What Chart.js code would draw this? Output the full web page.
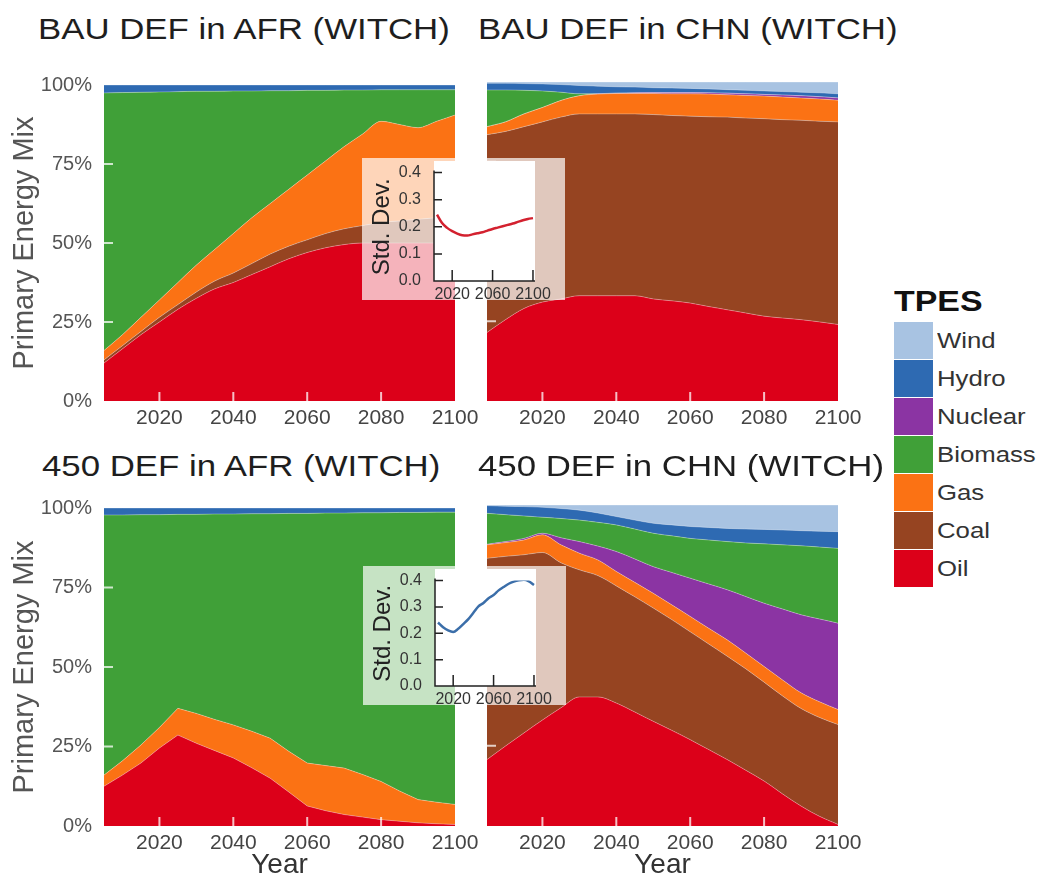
<!DOCTYPE html>
<html>
<head>
<meta charset="utf-8">
<script src="https://cdn.jsdelivr.net/npm/chart.js@4.4.0/dist/chart.umd.min.js"></script>
<style>
  body { margin: 0; background: #fff; width: 1039px; height: 879px; position: relative; overflow: hidden;
         font-family: "Liberation Sans", Arial, Helvetica, sans-serif; }
  canvas { position: absolute; }
  .inset { background: rgba(255,255,255,0.7); z-index: 5; }
  .ttl { position: absolute; font-size: 30px; line-height: 30px; color: #1e1e1e; white-space: nowrap;
         transform-origin: 0 0; transform: scaleX(1.16); z-index: 6; }
  .lgTitle { position: absolute; left: 894px; top: 286px; font-size: 30px; line-height: 30px; font-weight: bold;
             color: #111; transform-origin: 0 0; transform: scaleX(1.13); }
  .lgBox { position: absolute; left: 894px; width: 39px; height: 37px; }
  .lgTxt { position: absolute; left: 937px; font-size: 22px; line-height: 38px; color: #333; white-space: nowrap;
           transform-origin: 0 0; transform: scaleX(1.17); }
</style>
</head>
<body>
<div class="ttl" style="left:38px;top:14px">BAU DEF in AFR (WITCH)</div>
<div class="ttl" style="left:478px;top:14px">BAU DEF in CHN (WITCH)</div>
<div class="ttl" style="left:42px;top:451px">450 DEF in AFR (WITCH)</div>
<div class="ttl" style="left:478px;top:451px">450 DEF in CHN (WITCH)</div>

<canvas id="bauAfr" width="490" height="360" style="left:0;top:69px"></canvas>
<canvas id="bauChn" width="403" height="360" style="left:470px;top:69px"></canvas>
<canvas id="p450Afr" width="490" height="387" style="left:0;top:492px"></canvas>
<canvas id="p450Chn" width="403" height="387" style="left:470px;top:492px"></canvas>
<canvas id="bauSd" class="inset" width="203" height="142" style="left:362px;top:158px"></canvas>
<canvas id="p450Sd" class="inset" width="203" height="139" style="left:363px;top:566px"></canvas>

<div id="legend"></div>

<script>
// years on every panel
var years = [2005, 2010, 2015, 2020, 2025, 2030, 2035, 2040, 2045, 2050,
             2055, 2060, 2065, 2070, 2075, 2080, 2085, 2090, 2095, 2100];

// BAU DEF in AFR, shares in %
var bauAfrOil     = [12, 16.5, 21, 25, 29, 32.5, 35.5, 37.5, 40, 42.5, 45, 47, 48.5, 49.5, 50, 50, 50, 50, 50, 50];
var bauAfrCoal    = [1, 1, 1, 1.5, 1.5, 2, 2.5, 3, 3.5, 4, 4, 4, 4.5, 5, 5.5, 6.5, 7, 7.5, 8, 8.5];
var bauAfrGas     = [3, 3.5, 4.5, 5.5, 7, 8.5, 10, 12.5, 14.5, 16, 18, 20.5, 23, 26, 29, 32, 30.5, 29, 30.5, 32];
var bauAfrBiomass = [81.5, 76.6, 71.2, 65.8, 60.4, 55, 50, 45.1, 40.1, 35.7, 31.2, 26.8, 22.3, 17.9, 13.9, 10, 11, 12, 10, 8];
var bauAfrHydro   = [2.5, 2.4, 2.3, 2.2, 2.1, 2, 2, 1.9, 1.9, 1.8, 1.8, 1.7, 1.7, 1.6, 1.6, 1.5, 1.5, 1.5, 1.5, 1.5];

// BAU DEF in CHN
var bauChnOil     = [21.5, 25.5, 29, 31, 32, 33, 33, 33, 33, 32, 31.4, 30.7, 29.6, 28.6, 27.6, 26.6, 26, 25.5, 24.8, 24];
var bauChnCoal    = [62, 59, 57, 56.5, 57, 57, 57, 57, 57, 57.8, 58.1, 58.6, 59.5, 60.4, 61.1, 61.9, 62.2, 62.5, 62.9, 63.5];
var bauChnGas     = [2.5, 3, 4, 4.5, 5.2, 5.7, 6.2, 6.4, 6.4, 6.6, 6.8, 7, 7.1, 7, 7.1, 7.1, 7.1, 7, 7, 6.8];
var bauChnNuclear = [0, 0, 0, 0, 0, 0, 0.1, 0.1, 0.2, 0.3, 0.4, 0.4, 0.4, 0.5, 0.5, 0.5, 0.6, 0.7, 0.7, 0.7];
var bauChnBiomass = [11.5, 10, 7.4, 5.2, 2.6, 0.6, 0, 0, 0, 0, 0, 0, 0, 0, 0, 0, 0, 0, 0, 0];
var bauChnHydro   = [2.1, 2.1, 2.1, 2.2, 2.4, 2.6, 2.4, 2, 1.8, 1.5, 1.4, 1.3, 1.2, 1.1, 1.1, 1.1, 1.1, 1.1, 1.2, 1.3];
var bauChnWind    = [0.4, 0.4, 0.5, 0.6, 0.8, 1.1, 1.3, 1.5, 1.6, 1.8, 1.9, 2, 2.2, 2.4, 2.6, 2.8, 3, 3.2, 3.4, 3.7];

// 450 DEF in AFR
var p450AfrOil     = [12.5, 16, 19.8, 24.5, 28.6, 26, 23.7, 21.4, 18.3, 15, 10.7, 6.3, 4.8, 3.6, 2.8, 2, 1.5, 1, 0.7, 0.5];
var p450AfrGas     = [3.5, 4.5, 5.7, 6.5, 8.4, 9.4, 9.8, 10.4, 11.5, 12.6, 12.8, 13.5, 14.2, 14.6, 13.4, 12, 9.5, 7.3, 6.8, 6.3];
var p450AfrBiomass = [81.8, 77.3, 72.4, 66.9, 61, 62.6, 64.6, 66.3, 68.4, 70.6, 74.8, 78.5, 79.4, 80.2, 82.3, 84.5, 87.6, 90.3, 91.2, 91.9];
var p450AfrHydro   = [2.2, 2.2, 2.1, 2.1, 2, 2, 1.9, 1.9, 1.8, 1.8, 1.7, 1.7, 1.6, 1.6, 1.5, 1.5, 1.4, 1.4, 1.3, 1.3];

// 450 DEF in CHN
var p450ChnOil     = [20.7, 24.9, 29, 33, 36.8, 40.2, 40.2, 38.3, 35.5, 32.6, 29.8, 26.9, 23.8, 20.7, 17.4, 14, 10, 6.2, 3, 0.5];
var p450ChnCoal    = [62.7, 59.1, 55.5, 52.2, 45.2, 39.6, 37.8, 36.5, 35.9, 35.3, 34.5, 33.6, 32.9, 32.2, 31.6, 30.8, 30.5, 30.4, 30.8, 31.1];
var p450ChnGas     = [4.2, 4.3, 4.6, 5.5, 5.6, 5.2, 4.9, 4.5, 4.5, 4.6, 4.6, 4.8, 4.9, 5.1, 4.9, 4.9, 5, 4.9, 4.9, 4.7];
var p450ChnNuclear = [0.2, 0.3, 0.5, 0.5, 2.2, 3.6, 4.3, 6.2, 7.3, 8.3, 10.1, 11.9, 13.8, 15.6, 17.6, 19.7, 22.1, 24.3, 25.8, 26.9];
var p450ChnBiomass = [9.6, 8.4, 7, 5, 6, 6.7, 7.4, 8.3, 9.3, 10.4, 11.4, 12.4, 13.7, 15, 16.7, 18.5, 20, 21.5, 22.4, 23.3];
var p450ChnHydro   = [2.4, 2.6, 2.9, 3.1, 3.1, 3.1, 2.9, 2.6, 2.8, 3.1, 3.4, 3.7, 3.9, 4.1, 4.3, 4.5, 4.6, 4.7, 4.9, 5.2];
var p450ChnWind    = [0.2, 0.4, 0.5, 0.7, 1.1, 1.6, 2.5, 3.6, 4.7, 5.7, 6.2, 6.7, 7, 7.3, 7.5, 7.6, 7.8, 8, 8.2, 8.3];

// inset: standard deviation
var bauStdDev  = [0.245, 0.214, 0.196, 0.184, 0.175, 0.169, 0.168, 0.172, 0.176, 0.18, 0.186, 0.192, 0.197, 0.202, 0.207, 0.212, 0.218, 0.224, 0.229, 0.232];
var p450StdDev = [0.241, 0.223, 0.211, 0.205, 0.217, 0.235, 0.254, 0.278, 0.302, 0.315, 0.333, 0.345, 0.363, 0.376, 0.388, 0.396, 0.401, 0.403, 0.397, 0.383];

// ticks
var yearTicks = [2020, 2040, 2060, 2080, 2100];
var shareTicks = [0, 25, 50, 75, 100];
var insetYearTicks = [2020, 2060, 2100];
var insetSdTicks = [0, 0.1, 0.2, 0.3, 0.4];

// bottom to top, as stacked in the panels
var stackOrder = ['Oil', 'Coal', 'Gas', 'Nuclear', 'Biomass', 'Hydro', 'Wind'];
var legendOrder = ['Wind', 'Hydro', 'Nuclear', 'Biomass', 'Gas', 'Coal', 'Oil'];
var colors = {
  Wind: '#a8c3e2', Hydro: '#2e6ab2', Nuclear: '#8b34a3', Biomass: '#40a038',
  Gas: '#fb7214', Coal: '#964421', Oil: '#dc0019'
};

Chart.defaults.font.family = '"Liberation Sans", Arial, Helvetica, sans-serif';

// short tick marks drawn inside the plot, plus optional axis lines
var tickMarks = {
  id: 'tickMarks',
  afterDatasetsDraw: function(chart, args, o) {
    var ctx = chart.ctx, a = chart.chartArea, x = chart.scales.x, y = chart.scales.y;
    ctx.save();
    ctx.strokeStyle = o.color;
    ctx.lineWidth = o.width;
    ctx.beginPath();
    (o.x || []).forEach(function(v) {
      var px = x.getPixelForValue(v);
      ctx.moveTo(px, a.bottom); ctx.lineTo(px, a.bottom - o.xLen);
    });
    (o.y || []).forEach(function(v) {
      var py = y.getPixelForValue(v);
      ctx.moveTo(a.left, py); ctx.lineTo(a.left + o.yLen, py);
    });
    if (o.axes) {
      ctx.moveTo(a.left, a.top - 2); ctx.lineTo(a.left, a.bottom);
      ctx.lineTo(a.right, a.bottom);
    }
    ctx.stroke();
    ctx.restore();
  }
};

var plotBg = {
  id: 'plotBg',
  beforeDatasetsDraw: function(chart, args, o) {
    if (!o.color) return;
    var a = chart.chartArea;
    chart.ctx.save();
    chart.ctx.fillStyle = o.color;
    chart.ctx.fillRect(a.left, 3, a.right - a.left, a.bottom - 3);
    chart.ctx.restore();
  }
};

function mainChart(id, series, showY, showX, smooth) {
  var names = stackOrder.filter(function(k) { return series[k]; });
  var datasets = names.map(function(k, i) {
    return {
      label: k, data: series[k], backgroundColor: colors[k],
      borderColor: 'rgba(255,255,255,0.3)', borderWidth: 1,
      fill: i === 0 ? 'origin' : '-1', pointRadius: 0,
      cubicInterpolationMode: smooth ? 'monotone' : 'default'
    };
  });
  return new Chart(document.getElementById(id), {
    type: 'line',
    data: { labels: years, datasets: datasets },
    options: {
      responsive: false, animation: false, events: [],
      layout: { padding: { top: 13, right: 35, bottom: 0, left: 0 } },
      plugins: {
        legend: { display: false }, tooltip: { enabled: false },
        tickMarks: { color: 'rgba(255,255,255,0.75)', width: 2, xLen: 9, yLen: 9,
                     x: [2020, 2040, 2060, 2080], y: [25, 50, 75] }
      },
      scales: {
        x: {
          type: 'linear', min: 2005, max: 2100,
          grid: { display: false }, border: { display: false },
          afterBuildTicks: function(s) { s.ticks = yearTicks.map(function(v) { return { value: v }; }); },
          afterFit: function(s) { s.height = showX ? 53 : 28; },
          ticks: { font: { size: 21 }, color: '#444', padding: -3, maxRotation: 0, autoSkip: false,
                   callback: function(v) { return String(v); } },
          title: { display: showX, text: 'Year', font: { size: 28, lineHeight: 1 }, color: '#333', padding: 0 }
        },
        y: {
          stacked: true, min: 0, max: 100,
          grid: { display: false }, border: { display: false },
          afterBuildTicks: function(s) { s.ticks = shareTicks.map(function(v) { return { value: v }; }); },
          afterFit: function(s) { s.width = showY ? 104 : 17; },
          ticks: { display: showY, font: { size: 20 }, color: '#555', padding: 4,
                   callback: function(v) { return v + '%'; } },
          title: { display: showY, text: 'Primary Energy Mix', font: { size: 29, lineHeight: 1 },
                   color: '#555', padding: { top: 10, bottom: 0 } }
        }
      }
    },
    plugins: [tickMarks]
  });
}

function insetChart(id, values, color) {
  return new Chart(document.getElementById(id), {
    type: 'line',
    data: { labels: years, datasets: [{ data: values, borderColor: color, borderWidth: 2.5,
            pointRadius: 0, fill: false, cubicInterpolationMode: 'monotone' }] },
    options: {
      responsive: false, animation: false, events: [],
      layout: { padding: { top: 12, right: 30, bottom: 0, left: 0 } },
      plugins: {
        legend: { display: false }, tooltip: { enabled: false },
        plotBg: { color: '#ffffff' },
        tickMarks: { color: '#222', width: 1.5, xLen: 11, yLen: 8,
                     x: insetYearTicks, y: [0.1, 0.2, 0.3, 0.4], axes: true }
      },
      scales: {
        x: {
          type: 'linear', min: 2002, max: 2102,
          grid: { display: false }, border: { display: false },
          afterBuildTicks: function(s) { s.ticks = insetYearTicks.map(function(v) { return { value: v }; }); },
          afterFit: function(s) { s.height = 19; },
          ticks: { font: { size: 16 }, color: '#333', padding: -4, maxRotation: 0, autoSkip: false,
                   callback: function(v) { return String(v); } }
        },
        y: {
          min: 0, max: 0.4,
          grid: { display: false }, border: { display: false },
          afterBuildTicks: function(s) { s.ticks = insetSdTicks.map(function(v) { return { value: v }; }); },
          afterFit: function(s) { s.width = 72; },
          ticks: { font: { size: 16 }, color: '#333', padding: 5,
                   callback: function(v) { return v.toFixed(1); } },
          title: { display: true, text: 'Std. Dev.', font: { size: 24, lineHeight: 1 }, color: '#222',
                   padding: { top: 8, bottom: 0 } }
        }
      }
    },
    plugins: [plotBg, tickMarks]
  });
}

mainChart('bauAfr', { Oil: bauAfrOil, Coal: bauAfrCoal, Gas: bauAfrGas, Biomass: bauAfrBiomass,
                      Hydro: bauAfrHydro }, true, false, true);
mainChart('bauChn', { Oil: bauChnOil, Coal: bauChnCoal, Gas: bauChnGas, Nuclear: bauChnNuclear,
                      Biomass: bauChnBiomass, Hydro: bauChnHydro, Wind: bauChnWind }, false, false, true);
mainChart('p450Afr', { Oil: p450AfrOil, Gas: p450AfrGas, Biomass: p450AfrBiomass,
                       Hydro: p450AfrHydro }, true, true, false);
mainChart('p450Chn', { Oil: p450ChnOil, Coal: p450ChnCoal, Gas: p450ChnGas, Nuclear: p450ChnNuclear,
                       Biomass: p450ChnBiomass, Hydro: p450ChnHydro, Wind: p450ChnWind }, false, true, true);

insetChart('bauSd', bauStdDev, '#d3212f');
insetChart('p450Sd', p450StdDev, '#3b6ea9');

// legend
var lg = document.getElementById('legend');
var html = '<div class="lgTitle">TPES</div>';
legendOrder.forEach(function(k, i) {
  var top = 322 + i * 38;
  html += '<div class="lgBox" style="top:' + top + 'px;background:' + colors[k] + '"></div>';
  html += '<div class="lgTxt" style="top:' + top + 'px">' + k + '</div>';
});
lg.innerHTML = html;
</script>
</body>
</html>
